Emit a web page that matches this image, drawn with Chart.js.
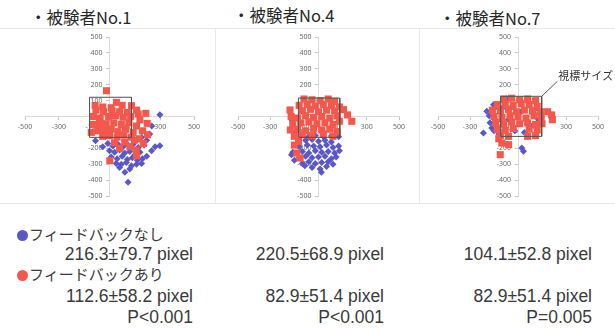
<!DOCTYPE html>
<html>
<head>
<meta charset="utf-8">
<script src="https://cdn.jsdelivr.net/npm/chart.js@4/dist/chart.umd.min.js"></script>
<style>
  body { margin: 0; width: 615px; height: 328px; background: #fff; position: relative; overflow: hidden;
         font-family: "Liberation Sans", Arial, sans-serif; color: #3a3a3a; }
  canvas { position: absolute; }
  .title { position: absolute; font-family: "Noto Sans CJK JP", sans-serif; font-size: 16.5px; color: #262626; white-space: nowrap; }
  .hline { position: absolute; height: 0; border-top: 1px solid #e8e8e8; }
  .vline { position: absolute; width: 0; border-left: 1px solid #e8e8e8; }
  .head { position: absolute; left: 17px; font-family: "Noto Sans CJK JP", sans-serif; font-size: 15px; white-space: nowrap; }
  .dot { display: inline-block; width: 11px; height: 11px; border-radius: 50%; margin-right: 1px; vertical-align: -1px; }
  .val { position: absolute; font-size: 17.5px; white-space: nowrap; text-align: right; width: 190px; }
</style>
</head>
<body>
<div class="hline" style="left:0;width:615px;top:28px"></div>
<div class="hline" style="left:0;width:615px;top:203px"></div>
<div class="vline" style="left:215px;top:28px;height:175px"></div>
<div class="vline" style="left:419px;top:28px;height:175px"></div>

<div class="title" style="left:30px;top:5px">・被験者No.1</div>
<div class="title" style="left:233px;top:3px">・被験者No.4</div>
<div class="title" style="left:439px;top:6px">・被験者No.7</div>

<canvas id="c1"></canvas>
<canvas id="c2"></canvas>
<canvas id="c3"></canvas>

<div class="head" style="top:223px"><span class="dot" style="background:#5a58c8"></span>フィードバックなし</div>
<div class="head" style="top:263px"><span class="dot" style="background:#f4584c"></span>フィードバックあり</div>
<div id="vals"></div>

<script>
// axis ticks
const xTicks = [-500, -300, -100, 100, 300, 500];
const yTicks = [-500, -400, -300, -200, -100, 0, 100, 200, 300, 400, 500];

// subject No.1
const p1Blue = [[298,11],[-83,-152],[238,-110],[298,-184],[249,-215],[270,-190],[91,-351],[110,-414],
  [-10,-170],[20,-185],[50,-175],[80,-190],[110,-180],[140,-175],[170,-195],[205,-180],
  [0,-215],[30,-225],[60,-210],[90,-230],[120,-220],[150,-240],[180,-225],[220,-250],
  [10,-255],[45,-265],[75,-250],[105,-270],[135,-260],[165,-275],[195,-265],
  [40,-295],[70,-300],[100,-290],[130,-310],[160,-300],[190,-295],
  [60,-320],[120,-330],[190,-130],[160,-150],[220,-150],[-40,-190],[250,-60]];
const p1Red = [[-18,162],[41,89],[75,70],[130,68],[-40,60],[10,55],[160,40],
  [-80,40],[-35,30],[15,35],[60,30],[105,25],[170,15],[215,20],
  [-95,0],[-55,-10],[-5,0],[35,5],[80,-5],[125,0],[180,-20],[223,-43],
  [-100,-50],[-60,-40],[-20,-45],[25,-40],[70,-50],[115,-40],[160,-60],
  [-70,-90],[-30,-85],[10,-80],[50,-95],[95,-80],[140,-100],[195,-90],
  [-40,-125],[0,-120],[45,-130],[85,-115],[130,-130],[175,-140],[225,-115],
  [30,-165],[90,-160],[148,-148],[200,-170],[60,-200],[120,-190],[158,-211],
  [2,-278],[160,-247],[-60,-64],[-108,-100],[-85,70]];

// subject No.4
const p2Blue = [[-166,-20],[-150,-100],
  [-60,-125],[-20,-120],[30,-125],[80,-122],[125,-128],
  [-80,-150],[-40,-145],[0,-155],[40,-150],[80,-160],
  [-120,-190],[-70,-180],[-30,-185],[10,-190],[50,-180],[90,-195],[125,-185],
  [-160,-225],[-100,-220],[-60,-230],[-20,-215],[20,-225],[60,-220],[100,-230],[130,-215],
  [-120,-260],[-80,-250],[-40,-260],[0,-255],[40,-250],[80,-265],[110,-255],
  [-100,-295],[-60,-285],[-20,-295],[20,-290],[60,-285],[90,-300],
  [-85,-310],[-40,-320],[10,-330],[50,-315],[18,-350],[-168,-240],[-150,-275]];
const p2Red = [[-90,110],[-40,105],[10,100],[60,110],[100,95],
  [-120,70],[-70,75],[-20,65],[30,75],[80,70],[130,60],
  [-177,41],[-100,35],[-50,45],[0,30],[50,40],[100,35],[155,43],
  [-170,0],[-130,-10],[-80,5],[-30,-5],[20,0],[70,-10],[115,5],[180,10],[207,-30],
  [-160,-45],[-110,-40],[-60,-35],[-10,-45],[40,-40],[90,-50],[130,-30],
  [-175,-85],[-130,-80],[-80,-90],[-30,-75],[20,-85],[70,-80],[115,-95],
  [-150,-125],[-100,-115],[-40,-120],[30,-110],[90,-125],
  [-124,-156],[-135,-230],[-114,-261],[-150,-180]];

// subject No.7
const p3Blue = [[-195,33],[-180,5],[-153,74],[-216,-104],[-164,-72],[-132,-30],[-91,96],[-70,112],
  [55,96],[128,-20],[130,-45],[24,-198],[34,-219],[-140,60],[-120,-110],[-100,50],[-60,-20],
  [20,30],[80,-60],[-20,-90],[40,-100],[100,40],[-40,60],[-175,-40],[-150,-90]];
const p3Red = [[-90,110],[-40,115],[10,105],[60,110],[110,100],
  [-130,75],[-80,80],[-30,70],[20,80],[70,75],[120,65],
  [-160,40],[-110,35],[-60,45],[-10,30],[40,40],[90,35],[140,30],[185,30],
  [-150,0],[-100,-5],[-50,5],[0,0],[50,-10],[100,5],[145,-5],[210,10],[215,-20],
  [-140,-40],[-90,-45],[-40,-35],[10,-45],[60,-40],[110,-50],[150,-45],
  [-130,-80],[-80,-85],[-30,-75],[70,-80],[120,-85],
  [-110,-120],[-60,-125],[60,-125],[110,-120],
  [-101,-167],[-59,-177],[-120,-140],[-111,-240]];

// target box per subject
const boxLeft = [-118, -125, -108];
const boxRight = [130, 132, 148];
const boxTop = [121, 116, 127];
const boxBottom = [-131, -131, -125];
const calloutEnd = [245, 220];
const calloutLabel = '視標サイズ';

// result texts
const noFbText = ['216.3±79.7 pixel', '220.5±68.9 pixel', '104.1±52.8 pixel'];
const fbText = ['112.6±58.2 pixel', '82.9±51.4 pixel', '82.9±51.4 pixel'];
const pText = ['P<0.001', 'P<0.001', 'P=0.005'];

const blueColor = '#5a58c8';
const redColor = '#f4584c';

// plot area placement (chart area in page px)
const areaLeft = [25, 238, 438];
const areaWidth = [169, 161, 160];
const areaTop = 37, areaHeight = 159, pad = 20;
const tickFont = '7px "Noto Sans", sans-serif';

const toPts = arr => arr.map(p => ({x: p[0], y: p[1]}));

function boxPoints(i) {
    return [
        {x: boxLeft[i], y: boxTop[i]}, {x: boxRight[i], y: boxTop[i]},
        {x: boxRight[i], y: boxBottom[i]}, {x: boxLeft[i], y: boxBottom[i]},
        {x: boxLeft[i], y: boxTop[i]}
    ];
}

// y labels sit left of the centred axis, under the points
const yLabelPlugin = {
    id: 'yLabels',
    beforeDatasetsDraw(chart) {
        const {ctx, scales} = chart;
        const x0 = scales.x.getPixelForValue(0);
        ctx.save();
        ctx.font = tickFont;
        ctx.fillStyle = '#6a6a6a';
        ctx.textAlign = 'right';
        ctx.textBaseline = 'middle';
        yTicks.forEach(v => ctx.fillText(String(v), x0 - 7, scales.y.getPixelForValue(v)));
        ctx.restore();
    }
};

const calloutPlugin = {
    id: 'callout',
    afterDatasetsDraw(chart) {
        if (!chart.options.plugins.callout.show) return;
        const {ctx, scales} = chart;
        ctx.save();
        ctx.font = '11px "Noto Sans CJK JP", sans-serif';
        ctx.fillStyle = '#333';
        ctx.textBaseline = 'middle';
        ctx.fillText(calloutLabel, scales.x.getPixelForValue(calloutEnd[0]) + 1, scales.y.getPixelForValue(calloutEnd[1]) - 6);
        ctx.restore();
    }
};

function makeChart(id, i, blue, red, withCallout) {
    const cv = document.getElementById(id);
    cv.width = areaWidth[i] + pad * 2;
    cv.height = areaHeight + pad * 2;
    cv.style.left = (areaLeft[i] - pad) + 'px';
    cv.style.top = (areaTop - pad) + 'px';

    const datasets = [
        {data: boxPoints(i), showLine: true, borderColor: '#505050', borderWidth: 1, pointRadius: 0, order: 0},
        {data: toPts(red), pointStyle: 'rect', pointRadius: 5, backgroundColor: redColor, borderWidth: 0, order: 1},
        {data: toPts(blue), pointStyle: 'rectRot', pointRadius: 3.5, backgroundColor: blueColor, borderWidth: 0, order: 2}
    ];
    if (withCallout) {
        datasets.push({data: [{x: boxRight[i], y: boxTop[i]}, {x: calloutEnd[0], y: calloutEnd[1]}],
            showLine: true, borderColor: '#505050', borderWidth: 1, pointRadius: 0, order: 0});
    }

    return new Chart(cv, {
        type: 'scatter',
        data: {datasets: datasets},
        options: {
            responsive: false,
            animation: false,
            events: [],
            layout: {padding: pad},
            plugins: {legend: {display: false}, tooltip: {enabled: false}, callout: {show: withCallout}},
            scales: {
                x: {
                    type: 'linear', min: -500, max: 500, position: {y: 0},
                    afterBuildTicks: a => { a.ticks = xTicks.map(v => ({value: v})); },
                    afterFit: a => { a.height = 0; },
                    grid: {drawOnChartArea: false, tickLength: 3, color: '#c4c4c4'},
                    border: {color: '#dadada'},
                    ticks: {font: {family: '"Noto Sans", sans-serif', size: 7}, color: '#6a6a6a', padding: 3, maxRotation: 0, autoSkip: false}
                },
                y: {
                    type: 'linear', min: -500, max: 500, position: {x: 0},
                    afterBuildTicks: a => { a.ticks = yTicks.map(v => ({value: v})); },
                    afterFit: a => { a.width = 0; },
                    grid: {drawOnChartArea: false, tickLength: 3, color: '#c4c4c4'},
                    border: {color: '#dadada'},
                    ticks: {display: false}
                }
            }
        },
        plugins: [yLabelPlugin, calloutPlugin]
    });
}

makeChart('c1', 0, p1Blue, p1Red, false);
makeChart('c2', 1, p2Blue, p2Red, false);
makeChart('c3', 2, p3Blue, p3Red, true);

// result columns
const colRight = [193, 384, 592];
const vals = document.getElementById('vals');
function addVal(text, col, top) {
    const d = document.createElement('div');
    d.className = 'val';
    d.textContent = text;
    d.style.left = (colRight[col] - 190) + 'px';
    d.style.top = top + 'px';
    vals.appendChild(d);
}
noFbText.forEach((t, i) => addVal(t, i, 244));
fbText.forEach((t, i) => addVal(t, i, 286));
pText.forEach((t, i) => addVal(t, i, 307));
</script>
</body>
</html>
